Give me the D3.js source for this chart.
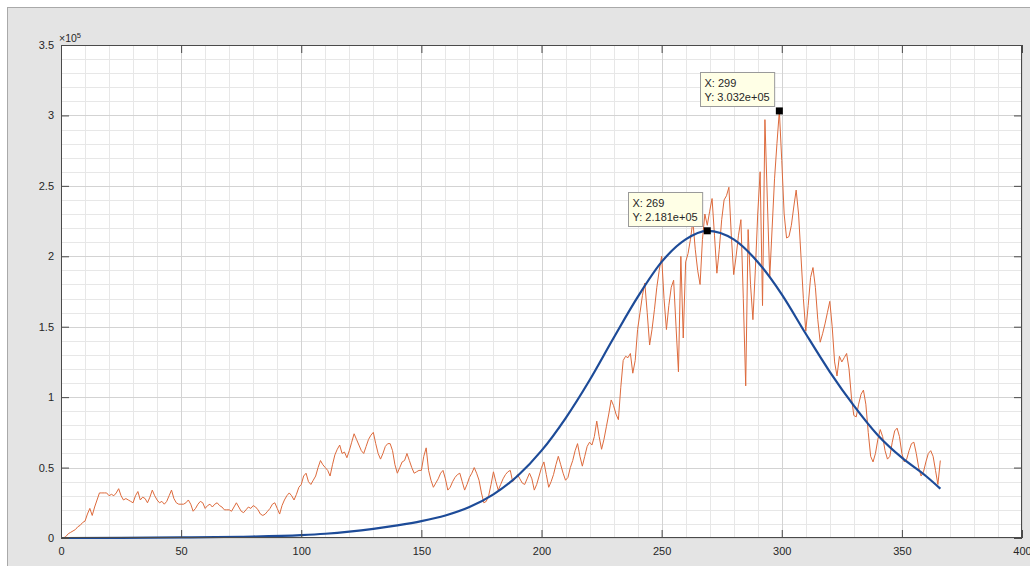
<!DOCTYPE html>
<html>
<head>
<meta charset="utf-8">
<script src="https://cdn.jsdelivr.net/npm/d3@7"></script>
<style>
  html, body { margin: 0; padding: 0; background: #ffffff; }
  svg { display: block; }
  text { font-family: "Liberation Sans", Arial, Helvetica, sans-serif; }
</style>
</head>
<body>
<svg id="chart" width="1030" height="566"></svg>
<script>
// ---------- DATA ----------
// Daily values (thousands), day 1..366
const dailyK = [
  0,1,3,4,5,6,8,9,11,12, 17,21,16,22,27,32,32,32,32,30,
  31,30,32,35,30,27,28,27,26,25, 30,33,27,29,28,25,29,34,30,27,
  25,26,24,26,30,34,28,25,24,24, 24,25,27,24,19,21,24,26,25,21,
  23,24,22,24,25,23,22,20,20,20, 19,22,25,22,19,18,20,22,21,23,
  22,20,17,16,17,19,21,24,25,21, 17,23,27,30,32,30,27,31,36,38,
  44,46,40,38,41,44,50,55,52,50, 48,44,52,59,63,66,60,61,57,62,
  68,74,70,66,62,60,65,70,73,75, 67,60,56,60,65,67,67,62,52,46,
  50,54,55,60,55,50,46,47,48,48, 58,64,48,41,36,39,42,46,48,42,
  34,36,40,43,45,46,40,34,38,43, 46,50,46,41,32,25,26,30,38,47,
  40,34,38,42,45,47,48,40,42,45, 42,39,38,42,46,42,34,38,44,50,
  54,45,36,40,45,52,58,52,46,41, 43,50,55,62,67,58,51,58,65,68,
  66,72,83,72,63,70,79,88,98,94, 88,84,107,126,129,128,131,117,126,148,
  160,172,181,160,137,148,162,178,190,200, 170,148,165,178,183,150,118,200,142,196,
  202,212,225,205,190,180,212,230,222,232, 241,215,188,205,226,240,243,249,215,187,
  200,215,226,170,108,219,180,155,190,230, 260,165,297,240,185,220,255,280,303.2,268,
  230,213,214,222,235,247,230,200,170,147, 165,185,192,178,155,139,145,152,160,168,
  150,125,115,129,125,128,131,120,100,87, 86,95,102,105,95,75,58,54,60,70,
  77,72,62,56,58,68,76,78,72,60, 54,56,62,67,68,60,50,44,47,54,
  60,62,58,48,38,55
];
const dailyDays = dailyK.map((_, i) => i + 1);

// Fitted curve samples (thousands)
const fitDays = [1,25,50,75,100,110,120,130,140,150,160,170,180,190,200,210,220,230,240,250,260,269,280,290,300,310,320,330,340,350,360,366];
const fitK    = [0,0.1,0.4,0.9,2,3,4.5,6.5,9,12,16,22,31,44,62,85,112,142,171,196,212,218.1,212,196,173,145,118,94,73,57,44,35];

// Data tips
const tipX = [269, 299];
const tipY = [218100, 303200];

// Axis ticks
const xTicks = [0,50,100,150,200,250,300,350,400];
const yTicks = [0,50000,100000,150000,200000,250000,300000,350000];

// ---------- CHART ----------
const svg = d3.select("#chart");
const L = 61, R = 1022, T = 45, B = 538;
const x = d3.scaleLinear().domain([0, 400]).range([L, R]);
const y = d3.scaleLinear().domain([0, 350000]).range([B, T]);

// figure panel
svg.append("rect").attr("x", 7.5).attr("y", 7.5).attr("width", 1040).attr("height", 580)
  .attr("fill", "#e4e4e4").attr("stroke", "#a9a9a9");

// axes background
svg.append("rect").attr("x", L).attr("y", T).attr("width", R - L).attr("height", B - T).attr("fill", "#ffffff");

// minor grid
const gGrid = svg.append("g");
d3.range(0, 401, 10).filter(v => v % 50 !== 0).forEach(v => {
  gGrid.append("line").attr("x1", Math.round(x(v)) + 0.5).attr("x2", Math.round(x(v)) + 0.5)
    .attr("y1", T).attr("y2", B).attr("stroke", "#e7e7e7").attr("stroke-width", 1);
});
d3.range(0, 350001, 10000).filter(v => v % 50000 !== 0).forEach(v => {
  gGrid.append("line").attr("y1", Math.round(y(v)) + 0.5).attr("y2", Math.round(y(v)) + 0.5)
    .attr("x1", L).attr("x2", R).attr("stroke", "#e7e7e7").attr("stroke-width", 1);
});
// major grid
xTicks.forEach(v => {
  gGrid.append("line").attr("x1", Math.round(x(v)) + 0.5).attr("x2", Math.round(x(v)) + 0.5)
    .attr("y1", T).attr("y2", B).attr("stroke", "#d3d3d3").attr("stroke-width", 1);
});
yTicks.forEach(v => {
  gGrid.append("line").attr("y1", Math.round(y(v)) + 0.5).attr("y2", Math.round(y(v)) + 0.5)
    .attr("x1", L).attr("x2", R).attr("stroke", "#d3d3d3").attr("stroke-width", 1);
});

// lines
const lineDaily = d3.line().x((d, i) => x(dailyDays[i])).y(d => y(d * 1000));
svg.append("path").datum(dailyK).attr("d", lineDaily)
  .attr("fill", "none").attr("stroke", "#dd6a3c").attr("stroke-width", 1).attr("stroke-linejoin", "round");

const lineFit = d3.line().x((d, i) => x(fitDays[i])).y(d => y(d * 1000)).curve(d3.curveMonotoneX);
svg.append("path").datum(fitK).attr("d", lineFit)
  .attr("fill", "none").attr("stroke", "#1d4b98").attr("stroke-width", 2.2);

// axes
const axisColor = "#4a4a4a";
function styleAxis(g, showLabels) {
  g.select(".domain").remove();
  g.selectAll(".tick line").attr("stroke", axisColor);
  g.selectAll(".tick text").attr("fill", "#262626").attr("font-size", 11);
  if (!showLabels) g.selectAll(".tick text").remove();
}
svg.append("g").attr("transform", `translate(0,${B})`)
  .call(d3.axisBottom(x).tickValues(xTicks).tickSize(-8).tickPadding(9).tickFormat(d3.format("d")))
  .call(g => styleAxis(g, true));
svg.append("g").attr("transform", `translate(0,${T})`)
  .call(d3.axisTop(x).tickValues(xTicks).tickSize(-8))
  .call(g => styleAxis(g, false));
svg.append("g").attr("transform", `translate(${L},0)`)
  .call(d3.axisLeft(y).tickValues(yTicks).tickSize(-8).tickPadding(7).tickFormat(v => d3.format("~g")(v / 1e5)))
  .call(g => styleAxis(g, true));
svg.append("g").attr("transform", `translate(${R},0)`)
  .call(d3.axisRight(y).tickValues(yTicks).tickSize(-8))
  .call(g => styleAxis(g, false));

// box
svg.append("rect").attr("x", L + 0.5).attr("y", T + 0.5).attr("width", R - L - 1).attr("height", B - T - 1)
  .attr("fill", "none").attr("stroke", axisColor).attr("stroke-width", 1);

// exponent label
const ex = svg.append("text").attr("x", L - 2).attr("y", 42).attr("font-size", 10.5).attr("fill", "#262626");
ex.append("tspan").text("×10");
ex.append("tspan").attr("font-size", 7.5).attr("dy", -4).text("5");

// data tips
tipX.forEach((tx, i) => {
  const px = x(tx), py = y(tipY[i]);
  const g = svg.append("g");
  const l1 = "X: " + tx;
  const l2 = "Y: " + d3.format(".3e")(tipY[i]).replace(/e\+(\d)$/, "e+0$1");
  const t1 = g.append("text").attr("font-size", 11).attr("fill", "#262626").text(l1);
  const t2 = g.append("text").attr("font-size", 11).attr("fill", "#262626").text(l2);
  const w = Math.max(t1.node().getComputedTextLength(), t2.node().getComputedTextLength()) + 9;
  const h = 34;
  const bx = Math.round(px - 5 - w) + 0.5, by = Math.round(py - 5 - h) + 0.5;
  g.insert("rect", "text").attr("x", bx).attr("y", by).attr("width", w).attr("height", h)
    .attr("fill", "#ffffe6").attr("stroke", "#9a9a9a").attr("stroke-width", 1);
  t1.attr("x", bx + 4).attr("y", by + 14);
  t2.attr("x", bx + 4).attr("y", by + 28);
  svg.append("rect").attr("x", px - 3.5).attr("y", py - 3.5).attr("width", 7).attr("height", 7).attr("fill", "#000");
});
</script>
</body>
</html>
